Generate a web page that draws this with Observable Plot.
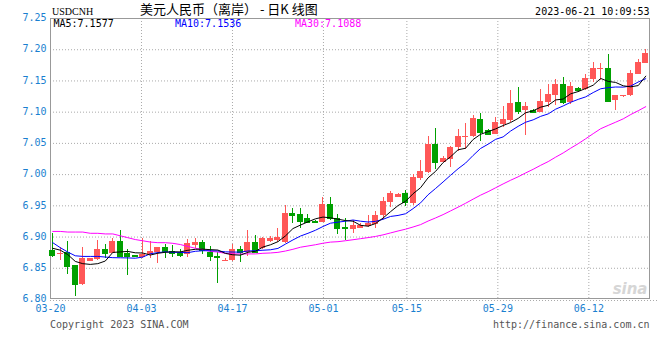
<!DOCTYPE html>
<html>
<head>
<meta charset="utf-8">
<script src="https://cdn.jsdelivr.net/npm/d3@7"></script>
<script src="https://cdn.jsdelivr.net/npm/@observablehq/plot@0.6"></script>
<style>
  html, body { margin: 0; padding: 0; background: #fff; }
</style>
</head>
<body>
<div id="chart"></div>
<script>
// ---- data (USDCNH daily bars, 80 sessions) ----
const open = [
  6.879, 6.872, 6.875, 6.854, 6.824, 6.861, 6.864, 6.880, 6.874, 6.893,
  6.874, 6.870, 6.867, 6.872, 6.876, 6.883, 6.877, 6.874, 6.872, 6.887,
  6.891, 6.876, 6.869, 6.862, 6.863, 6.880, 6.876, 6.892, 6.881, 6.893,
  6.894, 6.892, 6.937, 6.936, 6.929, 6.925, 6.924, 6.952, 6.929, 6.915,
  6.912, 6.914, 6.917, 6.920, 6.935, 6.956, 6.964, 6.969, 6.953, 6.994,
  7.003, 7.048, 7.020, 7.025, 7.044, 7.060, 7.061, 7.088, 7.071, 7.065,
  7.080, 7.086, 7.116, 7.102, 7.102, 7.099, 7.116, 7.127, 7.144, 7.116,
  7.138, 7.136, 7.153, 7.168, 7.170, 7.119, 7.125, 7.126, 7.161, 7.178
];
const high = [
  6.905, 6.884, 6.893, 6.855, 6.884, 6.866, 6.894, 6.888, 6.898, 6.910,
  6.880, 6.871, 6.898, 6.893, 6.884, 6.888, 6.887, 6.880, 6.896, 6.898,
  6.895, 6.885, 6.876, 6.865, 6.888, 6.885, 6.911, 6.902, 6.900, 6.901,
  6.913, 6.951, 6.946, 6.946, 6.936, 6.926, 6.964, 6.964, 6.936, 6.929,
  6.927, 6.922, 6.934, 6.941, 6.964, 6.973, 6.969, 6.975, 7.000, 7.023,
  7.061, 7.074, 7.029, 7.045, 7.072, 7.082, 7.095, 7.098, 7.072, 7.092,
  7.109, 7.135, 7.140, 7.116, 7.104, 7.136, 7.144, 7.153, 7.156, 7.147,
  7.140, 7.161, 7.180, 7.178, 7.192, 7.127, 7.127, 7.167, 7.185, 7.200
];
const low = [
  6.867, 6.863, 6.840, 6.805, 6.822, 6.861, 6.863, 6.866, 6.873, 6.867,
  6.839, 6.867, 6.866, 6.866, 6.858, 6.866, 6.868, 6.868, 6.867, 6.881,
  6.872, 6.861, 6.826, 6.861, 6.861, 6.860, 6.869, 6.873, 6.880, 6.891,
  6.891, 6.890, 6.921, 6.914, 6.921, 6.923, 6.924, 6.927, 6.904, 6.894,
  6.906, 6.914, 6.915, 6.913, 6.928, 6.947, 6.963, 6.949, 6.951, 6.990,
  7.002, 7.008, 7.019, 7.011, 7.037, 7.041, 7.059, 7.053, 7.063, 7.064,
  7.075, 7.083, 7.097, 7.063, 7.098, 7.099, 7.107, 7.110, 7.113, 7.113,
  7.132, 7.135, 7.148, 7.150, 7.116, 7.103, 7.124, 7.125, 7.160, 7.178
];
const close = [
  6.871, 6.874, 6.853, 6.824, 6.865, 6.865, 6.880, 6.874, 6.893, 6.869,
  6.869, 6.869, 6.872, 6.877, 6.883, 6.877, 6.873, 6.871, 6.890, 6.891,
  6.878, 6.869, 6.868, 6.863, 6.880, 6.875, 6.892, 6.876, 6.897, 6.898,
  6.900, 6.938, 6.935, 6.925, 6.924, 6.924, 6.952, 6.929, 6.914, 6.913,
  6.919, 6.919, 6.922, 6.935, 6.957, 6.970, 6.968, 6.956, 6.996, 7.005,
  7.049, 7.020, 7.026, 7.043, 7.061, 7.061, 7.090, 7.068, 7.064, 7.083,
  7.088, 7.114, 7.101, 7.109, 7.099, 7.117, 7.129, 7.144, 7.116, 7.141,
  7.135, 7.154, 7.170, 7.170, 7.117, 7.127, 7.127, 7.162, 7.180, 7.194
];
const ma5 = [
  6.882, 6.879, 6.872, 6.861, 6.8574, 6.8562, 6.8574, 6.8616, 6.8754, 6.8762,
  6.877, 6.8748, 6.8744, 6.8712, 6.874, 6.8756, 6.8764, 6.8762, 6.8788, 6.8804,
  6.8806, 6.8798, 6.8792, 6.8738, 6.8716, 6.871, 6.8756, 6.8772, 6.884, 6.8876,
  6.8926, 6.9018, 6.9136, 6.9192, 6.9244, 6.9292, 6.932, 6.9308, 6.9286, 6.9264,
  6.9254, 6.9188, 6.9174, 6.9216, 6.9304, 6.9406, 6.9504, 6.9572, 6.9694, 6.979,
  6.9948, 7.0052, 7.0192, 7.0286, 7.0398, 7.0422, 7.0562, 7.0646, 7.0688, 7.0732,
  7.0786, 7.0834, 7.090, 7.099, 7.1022, 7.108, 7.111, 7.1196, 7.121, 7.1294,
  7.133, 7.138, 7.1432, 7.154, 7.1492, 7.1476, 7.1422, 7.1406, 7.1426, 7.1577
];
const ma10 = [
  6.891, 6.883, 6.876, 6.870, 6.869, 6.869, 6.869, 6.868, 6.867, 6.8668,
  6.8666, 6.8661, 6.868, 6.8733, 6.8751, 6.8763, 6.8756, 6.8753, 6.875, 6.8772,
  6.8781, 6.8781, 6.8777, 6.8763, 6.876, 6.8758, 6.8777, 6.8782, 6.8789, 6.8796,
  6.8818, 6.8887, 6.8954, 6.9016, 6.906, 6.9109, 6.9169, 6.9222, 6.9239, 6.9254,
  6.9273, 6.9254, 6.9241, 6.9251, 6.9284, 6.933, 6.9346, 6.9373, 6.9455, 6.9547,
  6.9677, 6.9778, 6.9882, 6.999, 7.0094, 7.0185, 7.0307, 7.0419, 7.0487, 7.0565,
  7.0604, 7.0698, 7.0773, 7.0839, 7.0877, 7.0933, 7.0972, 7.1048, 7.110, 7.1158,
  7.1205, 7.1245, 7.1314, 7.1375, 7.1393, 7.1403, 7.1401, 7.1419, 7.1483, 7.1536
];
const ma30 = [
  6.909, 6.909, 6.908, 6.908, 6.908, 6.906, 6.906, 6.905, 6.905, 6.902,
  6.899, 6.896, 6.894, 6.892, 6.891, 6.891, 6.890, 6.888, 6.885, 6.882,
  6.880, 6.877, 6.876, 6.874, 6.873, 6.873, 6.873, 6.873, 6.874, 6.8745,
  6.8755, 6.8776, 6.8804, 6.8837, 6.8857, 6.8877, 6.8901, 6.8919, 6.8926, 6.8941,
  6.8957, 6.8974, 6.8991, 6.901, 6.9035, 6.9066, 6.9097, 6.9126, 6.9161, 6.9199,
  6.9256, 6.9306, 6.9359, 6.9419, 6.9479, 6.9541, 6.9607, 6.9671, 6.9727, 6.9789,
  6.9851, 6.991, 6.9965, 7.0027, 7.0085, 7.0149, 7.0208, 7.028, 7.0347, 7.0423,
  7.0495, 7.0574, 7.0656, 7.0735, 7.0788, 7.084, 7.0893, 7.0962, 7.1023, 7.1088
];

// axis ticks / labels
const tickLabels = ["03-20", "04-03", "04-17", "05-01", "05-15", "05-29", "06-12"];
const tickSlots = [0, 12, 24, 36, 47, 59, 71];   // date grid slots (grid has 79 slots)
const gridSlotCount = 79;
const yTicks = [6.80, 6.85, 6.90, 6.95, 7.00, 7.05, 7.10, 7.15, 7.20, 7.25];
const legendLabels = ["MA5:7.1577", "MA10:7.1536", "MA30:7.1088"];
const symbol = "USDCNH";
const title = "美元人民币（离岸） - 日K 线图";
const stamp = "2023-06-21 10:09:53";
const copyright = "Copyright 2023 SINA.COM";
const site = "http://finance.sina.com.cn";

// ---- build table ----
const bars = close.map((c, i) => ({
  i, open: open[i], high: high[i], low: low[i], close: c,
  ma5: ma5[i], ma10: ma10[i], ma30: ma30[i],
  color: c >= open[i] ? "#ff5757" : "#00a000"
}));
const xDomain = [-0.3, 79.5];
const ticks = tickLabels.map((label, k) => ({
  label,
  pos: xDomain[0] + tickSlots[k] * (xDomain[1] - xDomain[0]) / gridSlotCount
}));

const BLUE = "#1a7fd0";
const MONO = "'DejaVu Sans Mono', monospace";
const GRID = "#aaaaaa";

const chart = Plot.plot({
  width: 660,
  height: 360,
  marginLeft: 50,
  marginRight: 11,
  marginTop: 18,
  marginBottom: 61,
  x: {domain: xDomain, axis: null},
  y: {domain: [yTicks[0], yTicks[yTicks.length - 1]], axis: null},
  color: {type: "identity"},
  style: {background: "#fff", fontFamily: MONO, fontSize: "10px", overflow: "visible"},
  marks: [
    // grid
    Plot.ruleY(yTicks.slice(1, -1), {stroke: GRID, strokeDasharray: "1,2"}),
    Plot.ruleX(ticks.slice(1), {x: "pos", stroke: GRID, strokeDasharray: "1,2"}),
    Plot.ruleY([yTicks[0]], {dy: 1, insetRight: -10, stroke: GRID, strokeDasharray: "1,2"}),
    Plot.frame({stroke: "#999", insetBottom: 1}),
    // candles
    Plot.ruleX(bars, {x: "i", y1: "low", y2: "high", stroke: "color", shapeRendering: "crispEdges"}),
    Plot.rect(bars, {x1: d => d.i - 0.4, x2: d => d.i + 0.4, y1: "open", y2: "close", fill: "color", shapeRendering: "crispEdges"}),
    Plot.ruleY(bars, {x1: d => d.i - 0.4, x2: d => d.i + 0.4, y: "close", stroke: "color", shapeRendering: "crispEdges"}),
    // moving averages
    Plot.line(bars, {x: "i", y: "ma30", stroke: "#ff00ff", strokeWidth: 1}),
    Plot.line(bars, {x: "i", y: "ma10", stroke: "#0000ff", strokeWidth: 1}),
    Plot.line(bars, {x: "i", y: "ma5", stroke: "#000000", strokeWidth: 1}),
    // axis labels
    Plot.text(yTicks, {y: d => d, text: d => d.toFixed(2), frameAnchor: "left", textAnchor: "end", lineAnchor: "middle", dx: -4, dy: -0.5, fill: BLUE, fontFamily: MONO, fontSize: 10}),
    Plot.text(ticks, {x: "pos", text: "label", frameAnchor: "bottom", lineAnchor: "top", dy: 5, fill: BLUE, fontFamily: MONO, fontSize: 10}),
    // legends
    Plot.text([legendLabels[0]], {text: d => d, frameAnchor: "top-left", textAnchor: "start", lineAnchor: "bottom", dx: 3, dy: 8.5, fill: "#000", fontFamily: MONO, fontSize: 10}),
    Plot.text([legendLabels[1]], {text: d => d, frameAnchor: "top-left", textAnchor: "start", lineAnchor: "bottom", dx: 124.5, dy: 8.5, fill: "#0000ff", fontFamily: MONO, fontSize: 10}),
    Plot.text([legendLabels[2]], {text: d => d, frameAnchor: "top-left", textAnchor: "start", lineAnchor: "bottom", dx: 244.5, dy: 8.5, fill: "#ff00ff", fontFamily: MONO, fontSize: 10}),
    // header
    Plot.text([symbol], {text: d => d, frameAnchor: "top-left", textAnchor: "start", lineAnchor: "bottom", dx: 1.5, dy: -3.5, fill: "#000", fontFamily: "'Liberation Serif', serif", fontSize: 10}),
    Plot.text([title], {text: d => d, frameAnchor: "top-left", textAnchor: "start", lineAnchor: "bottom", dx: 89.5, dy: -5, fill: "#000", fontFamily: "'Noto Sans CJK SC', sans-serif", fontSize: 13}),
    Plot.text([stamp], {text: d => d, frameAnchor: "top-right", textAnchor: "end", lineAnchor: "bottom", dx: 0, dy: -3.5, fill: "#000", fontFamily: MONO, fontSize: 10}),
    // footer
    Plot.text([copyright], {text: d => d, frameAnchor: "bottom-left", textAnchor: "start", lineAnchor: "bottom", dx: -0.5, dy: 28, fill: "#555", fontFamily: MONO, fontSize: 10}),
    Plot.text([site], {text: d => d, frameAnchor: "bottom-right", textAnchor: "end", lineAnchor: "bottom", dx: 0, dy: 28, fill: "#555", fontFamily: MONO, fontSize: 10}),
    // watermark
    Plot.text(["sina"], {text: d => d, frameAnchor: "bottom-right", textAnchor: "end", lineAnchor: "bottom", dx: -2, dy: -6, fill: "#d6d6d6", fontFamily: "'DejaVu Sans', sans-serif", fontSize: 15, fontWeight: "bold", fontStyle: "italic"})
  ]
});
document.getElementById("chart").append(chart);
</script>
</body>
</html>
